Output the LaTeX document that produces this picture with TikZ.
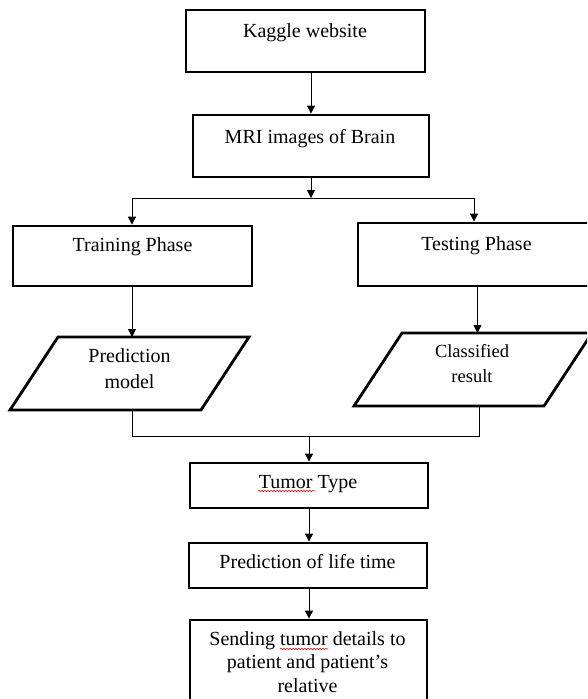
\documentclass[tikz,border=0pt]{standalone}
\usepackage{fontspec}
\setmainfont{Liberation Serif}
\usetikzlibrary{arrows.meta,decorations.pathmorphing}
\begin{document}
\begin{tikzpicture}[x=1pt,y=-1pt,
  boxst/.style={draw, line width=2.8pt, inner sep=0pt},
  shp/.style={draw, line width=2.8pt, line join=miter},
  txt/.style={font=\fontsize{20}{25}\selectfont, inner sep=0pt, align=center},
  conn/.style={line width=0.9pt},
  arr/.style={line width=0.9pt, -{Triangle[length=8pt,width=8pt]}},
  spell/.style={red, line width=0.6pt, decorate, decoration={snake, amplitude=0.7pt, segment length=3pt}}]
\useasboundingbox (0,0) rectangle (587,699);
\fill[white] (0,0) rectangle (587,699);
\clip (0,0) rectangle (587,699);

% boxes
\node[boxst, minimum width=239pt, minimum height=62pt] (kag) at (305.5,41) {};
\node[txt, anchor=base] (kagt) at (305,37) {Kaggle website};

\node[boxst, minimum width=236pt, minimum height=62pt] (mri) at (311,146) {};
\node[txt, anchor=base] (mrit) at (310,143) {MRI images of Brain};

\node[boxst, minimum width=239pt, minimum height=60pt] (trn) at (132.5,256) {};
\node[txt, anchor=base] (trnt) at (132.5,251) {Training Phase};

\node[boxst, minimum width=239pt, minimum height=63pt] (tst) at (477.5,254.5) {};
\node[txt, anchor=base] (tstt) at (476.5,250) {Testing Phase};

\node[boxst, minimum width=238pt, minimum height=45pt] (tum) at (309,485.5) {};
\node[txt, anchor=base] (tumt) at (308,488) {Tumor Type};

\node[boxst, minimum width=238pt, minimum height=45pt] (life) at (308,565.5) {};
\node[txt, anchor=base] (lifet) at (307.5,568) {Prediction of life time};

\node[boxst, minimum width=237pt, minimum height=92pt] (send) at (308.5,666) {};
\node[txt, anchor=base, font=\fontsize{20}{23.5}\selectfont] (sendt) at (307.5,692) {Sending tumor details to\\patient and patient’s\\relative};

% parallelograms
\draw[shp] (58,337) -- (249,337) -- (201,410) -- (10,410) -- cycle;
\node[txt, anchor=base, font=\fontsize{20}{26}\selectfont] (predt) at (129.5,388) {Prediction\\model};
\draw[shp] (402,333) -- (592,333) -- (544,406) -- (354,406) -- cycle;
\node[txt, anchor=base, font=\fontsize{18.5}{25}\selectfont] (clst) at (472,382) {Classified\\result};

\coordinate (predtop) at (132,337);
\coordinate (predbot) at (132,410);
\coordinate (clstop) at (477.5,333);
\coordinate (clsbot) at (479,406);

% spelling marks
\draw[spell] (258,491) -- (315,491);
\draw[spell] (280,649) -- (328,649);

% connectors
\draw[arr] (kag.south -| mri.north) -- (mri.north);
\coordinate (split) at (311,198);
\coordinate (sl) at (132,198);
\coordinate (sr) at (474,198);
\draw[arr] (mri.south -| split) -- (split);
\draw[conn] (sl) -- (sr);
\draw[arr] (sl) -- (sl |- trn.north);
\draw[arr] (sr) -- (sr |- tst.north);
\draw[arr] (tst.south -| clstop) -- (clstop);
\draw[arr] (trn.south -| predtop) -- (predtop);

\coordinate (ml) at (132,436);
\coordinate (mr) at (479,436);
\coordinate (mm) at (309,436);
\draw[conn] (predbot) -- (ml) -- (mr) -- (clsbot);
\draw[arr] (mm) -- (mm |- tum.north);
\draw[arr] (tum.south -| mm) -- (mm |- life.north);
\draw[arr] (life.south -| mm) -- (mm |- send.north);
\end{tikzpicture}
\end{document}
